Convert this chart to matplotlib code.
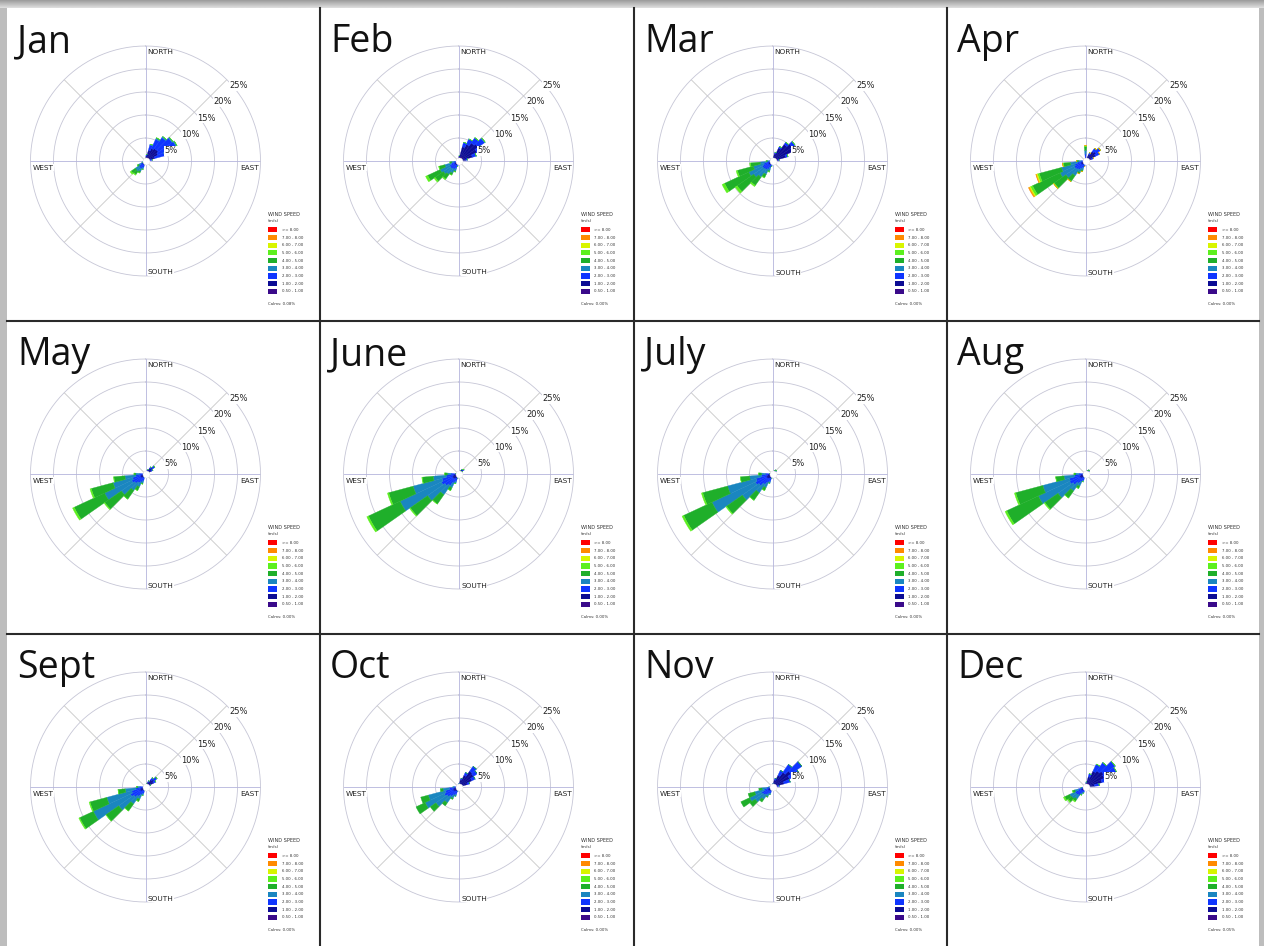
import numpy as np
import matplotlib
matplotlib.use("Agg")
import matplotlib.pyplot as plt
from matplotlib.patches import Rectangle

W, H = 1264, 946

MONTHS = ["Jan", "Feb", "Mar", "Apr", "May", "June",
          "July", "Aug", "Sept", "Oct", "Nov", "Dec"]
SPEED_BINS = ["0.50 - 1.00", "1.00 - 2.00", "2.00 - 3.00", "3.00 - 4.00",
              "4.00 - 5.00", "5.00 - 6.00", "6.00 - 7.00", "7.00 - 8.00", ">= 8.00"]
BIN_COLORS = ["#3a0a8a", "#0c0c94", "#0f35ff", "#1a86c0", "#1faf2a",
              "#5cf01e", "#d8f500", "#ff8a00", "#ff0000"]
RINGS = [5, 10, 15, 20, 25]
DIRECTIONS = ["NORTH", "EAST", "SOUTH", "WEST"]
CALMS = ["0.08%", "0.00%", "0.00%", "0.00%", "0.00%", "0.00%",
         "0.00%", "0.00%", "0.00%", "0.00%", "0.00%", "0.05%"]

# frequency (%) per 10-degree sector, one value per speed bin (slowest first)
JAN = {0: [0.2, 0.3], 10: [0.4, 0.7, 0.3], 20: [0.8, 1.6, 1.2, 0.2],
       30: [1.0, 2.0, 2.2, 0.3, 0.1], 40: [1.1, 2.2, 2.9, 0.3], 50: [1.1, 2.3, 3.6, 0.3],
       60: [0.9, 2.1, 4.3, 0.3], 70: [0.6, 1.5, 2.2, 0.2], 80: [0.3, 0.7, 0.5],
       90: [0.1, 0.2, 0.2], 190: [0.2, 0.3, 0.3], 200: [0.3, 0.5, 0.7, 0.4, 0.1],
       210: [0.3, 0.6, 0.9, 0.7, 0.4], 220: [0.3, 0.6, 1.0, 0.9, 0.8, 0.2],
       230: [0.3, 0.6, 0.9, 0.9, 1.1, 0.3], 240: [0.2, 0.4, 0.5, 0.5, 0.4],
       250: [0.1, 0.2, 0.3, 0.2]}
FEB = {10: [0.3, 0.8, 0.1], 20: [0.8, 2.4, 1.0], 30: [1.0, 3.0, 1.3],
       40: [1.2, 3.6, 1.3, 0.1], 50: [1.3, 3.9, 1.7, 0.2], 60: [1.0, 3.4, 1.4],
       70: [0.7, 2.4, 0.9], 80: [0.4, 1.2, 0.4], 190: [0.2, 0.4, 0.4, 0.2],
       200: [0.3, 0.6, 0.8, 0.6, 0.2], 210: [0.3, 0.7, 1.0, 0.9, 0.5],
       220: [0.3, 0.7, 1.1, 1.5, 1.2, 0.2], 230: [0.3, 0.7, 1.2, 1.8, 2.2, 0.3],
       240: [0.3, 0.6, 1.2, 2.3, 3.0, 0.5], 250: [0.2, 0.5, 0.9, 1.5, 1.3, 0.1],
       260: [0.1, 0.3, 0.5, 0.6, 0.4], 270: [0.1, 0.2, 0.2]}
MAR = {20: [0.4, 1.3, 0.3], 30: [0.7, 2.4, 0.4], 40: [1.0, 3.4, 0.6],
       50: [1.1, 4.1, 0.8], 60: [1.0, 3.8, 0.7], 70: [0.6, 2.4, 0.5],
       80: [0.3, 1.0, 0.2], 190: [0.2, 0.4, 0.4, 0.2], 200: [0.2, 0.5, 0.8, 0.7, 0.3],
       210: [0.3, 0.6, 1.1, 1.2, 0.8, 0.1], 220: [0.3, 0.7, 1.3, 2.0, 2.2, 0.3],
       230: [0.3, 0.7, 1.4, 2.6, 4.4, 0.5], 240: [0.3, 0.7, 1.5, 3.2, 5.8, 0.6],
       250: [0.2, 0.6, 1.2, 2.3, 3.6, 0.3], 260: [0.1, 0.4, 0.8, 1.4, 2.1, 0.2],
       270: [0.1, 0.2, 0.4, 0.4, 0.3]}
APR = {0: [0.2, 0.5, 0.8, 0.8, 0.8, 0.2], 30: [0.4, 1.2, 0.4], 40: [0.6, 1.9, 0.9],
       50: [0.6, 2.2, 1.2], 60: [0.5, 1.9, 1.0], 70: [0.3, 1.1, 0.4],
       80: [0.2, 0.4, 0.2], 190: [0.2, 0.4, 0.4, 0.2], 200: [0.2, 0.5, 0.8, 0.6, 0.3],
       210: [0.3, 0.6, 1.0, 0.8, 0.4], 220: [0.3, 0.7, 1.3, 1.6, 1.5, 0.1],
       230: [0.3, 0.8, 1.5, 2.6, 3.1, 0.2], 240: [0.3, 0.8, 1.6, 3.4, 6.6, 0.5, 0.3, 0.2],
       250: [0.3, 0.7, 1.4, 3.0, 5.0, 0.4, 0.3, 0.1], 260: [0.2, 0.5, 1.0, 1.6, 1.5, 0.2],
       270: [0.1, 0.3, 0.5, 0.6, 0.4]}
MAY = {30: [0.3, 0.6, 0.2], 40: [0.5, 1.0, 0.4], 50: [0.6, 1.3, 0.6], 60: [0.4, 1.0, 0.4],
       70: [0.2, 0.5, 0.1], 190: [0.2, 0.3, 0.3], 200: [0.3, 0.5, 0.8, 0.5, 0.2],
       210: [0.3, 0.6, 1.1, 1.1, 0.9], 220: [0.3, 0.7, 1.4, 2.0, 2.3],
       230: [0.4, 0.8, 1.7, 3.5, 4.4, 0.2], 240: [0.4, 0.9, 2.0, 6.5, 7.3, 0.4],
       250: [0.3, 0.8, 1.8, 4.4, 4.9, 0.3], 260: [0.2, 0.6, 1.3, 2.4, 2.4, 0.1],
       270: [0.1, 0.4, 0.8, 0.8, 0.4], 280: [0.1, 0.2, 0.2]}
JUNE = {30: [0.2, 0.5, 0.1], 40: [0.3, 0.8, 0.2], 50: [0.3, 0.9, 0.3], 60: [0.2, 0.6, 0.2],
        190: [0.2, 0.4, 0.3], 200: [0.3, 0.6, 0.8, 0.4, 0.1], 210: [0.3, 0.7, 1.2, 1.1, 0.7],
        220: [0.4, 0.9, 1.8, 2.4, 2.5], 230: [0.4, 1.0, 2.2, 4.6, 4.6, 0.2],
        240: [0.4, 1.1, 2.6, 9.9, 7.6, 0.4], 250: [0.4, 1.0, 2.3, 6.5, 5.5, 0.3],
        260: [0.3, 0.8, 1.6, 2.8, 2.4, 0.1], 270: [0.2, 0.5, 0.9, 0.8, 0.6],
        280: [0.1, 0.3, 0.3]}
JULY = {20: [0.2, 0.3], 30: [0.3, 0.5, 0.1], 40: [0.3, 0.6, 0.2], 50: [0.3, 0.6, 0.2],
        60: [0.2, 0.5, 0.1], 190: [0.2, 0.4, 0.3], 200: [0.3, 0.6, 0.8, 0.4],
        210: [0.3, 0.7, 1.2, 1.1, 0.7], 220: [0.4, 0.8, 1.6, 2.2, 2.0],
        230: [0.4, 1.0, 2.2, 4.4, 4.2, 0.2], 240: [0.4, 1.1, 2.6, 10.4, 6.8, 0.4],
        250: [0.4, 1.0, 2.3, 6.4, 5.6, 0.3], 260: [0.3, 0.7, 1.4, 2.6, 2.0],
        270: [0.2, 0.5, 0.8, 0.9, 0.6], 280: [0.1, 0.3, 0.3]}
AUG = {20: [0.2, 0.3], 30: [0.3, 0.5, 0.1], 40: [0.3, 0.6, 0.2], 50: [0.3, 0.6, 0.2],
       60: [0.2, 0.3], 190: [0.2, 0.3, 0.3], 200: [0.3, 0.5, 0.7, 0.3],
       210: [0.3, 0.6, 1.0, 1.0, 0.6], 220: [0.3, 0.7, 1.5, 2.0, 1.9],
       230: [0.4, 0.9, 2.0, 4.0, 3.5, 0.2], 240: [0.4, 1.0, 2.4, 7.5, 7.6, 0.4],
       250: [0.4, 1.0, 2.2, 6.0, 6.1, 0.3], 260: [0.3, 0.7, 1.4, 2.3, 1.8],
       270: [0.2, 0.4, 0.8, 0.7, 0.4], 280: [0.1, 0.2, 0.2]}
SEPT = {20: [0.2, 0.5, 0.1], 30: [0.3, 0.9, 0.3], 40: [0.5, 1.4, 0.6], 50: [0.6, 1.7, 0.8],
        60: [0.5, 1.4, 0.6], 70: [0.3, 0.7, 0.2], 190: [0.2, 0.3, 0.3],
        200: [0.3, 0.5, 0.7, 0.4], 210: [0.3, 0.6, 1.0, 1.0, 0.6],
        220: [0.3, 0.7, 1.5, 2.0, 1.9], 230: [0.4, 0.9, 1.8, 4.0, 3.4],
        240: [0.4, 1.0, 2.2, 8.9, 3.3, 0.2], 250: [0.3, 0.9, 1.9, 5.6, 3.8, 0.2],
        260: [0.2, 0.6, 1.3, 2.3, 1.6], 270: [0.1, 0.4, 0.7, 0.5, 0.3]}
OCT = {10: [0.2, 0.5, 0.1], 20: [0.4, 1.3, 0.3], 30: [0.6, 2.2, 0.7],
       40: [0.9, 3.3, 1.3], 50: [0.9, 3.1, 1.0], 60: [0.7, 2.5, 0.8],
       70: [0.4, 1.6, 0.5], 80: [0.2, 0.5, 0.2], 190: [0.2, 0.4, 0.3],
       200: [0.3, 0.6, 0.8, 0.4], 210: [0.3, 0.7, 1.0, 0.7, 0.3],
       220: [0.3, 0.8, 1.4, 1.7, 0.8], 230: [0.4, 0.9, 1.7, 3.0, 1.5],
       240: [0.4, 1.0, 2.0, 4.6, 2.2], 250: [0.3, 0.9, 1.8, 3.8, 1.7],
       260: [0.2, 0.6, 1.2, 1.4, 0.6], 270: [0.1, 0.3, 0.5, 0.3]}
NOV = {10: [0.2, 0.5, 0.1], 20: [0.4, 1.2, 0.4], 30: [0.6, 2.2, 1.2],
       40: [0.9, 3.0, 2.1], 50: [1.1, 3.8, 2.9], 60: [0.9, 3.2, 2.4],
       70: [0.6, 2.0, 1.4], 80: [0.3, 0.8, 0.4], 190: [0.2, 0.3, 0.2],
       200: [0.3, 0.5, 0.6, 0.3], 210: [0.3, 0.6, 0.8, 0.6, 0.2],
       220: [0.3, 0.7, 1.1, 1.2, 0.7], 230: [0.3, 0.8, 1.3, 2.2, 1.4],
       240: [0.3, 0.8, 1.5, 2.9, 2.1], 250: [0.2, 0.6, 1.1, 2.1, 1.5],
       260: [0.1, 0.4, 0.7, 1.1, 0.7], 270: [0.1, 0.2, 0.3, 0.2]}
DEC = {10: [0.3, 0.6, 0.2], 20: [0.7, 1.6, 0.7], 30: [1.0, 2.8, 1.7], 40: [1.1, 3.2, 2.2],
       50: [1.2, 3.6, 3.1], 60: [1.1, 3.4, 3.0], 70: [0.9, 2.8, 2.3], 80: [0.5, 1.5, 1.0],
       90: [0.2, 0.4, 0.1], 200: [0.2, 0.5, 0.5, 0.2], 210: [0.3, 0.6, 0.7, 0.3, 0.1],
       220: [0.3, 0.7, 1.2, 1.0, 0.6, 0.2], 230: [0.3, 0.8, 1.3, 1.2, 1.0, 0.2],
       240: [0.3, 0.8, 1.4, 1.3, 1.2, 0.3], 250: [0.2, 0.5, 0.9, 0.8, 0.5, 0.1],
       260: [0.1, 0.3, 0.4, 0.2]}
ROSES = [JAN, FEB, MAR, APR, MAY, JUNE, JULY, AUG, SEPT, OCT, NOV, DEC]

# panel grid edges in pixels
COL_X = [7, 320, 634, 947, 1259]
ROW_Y = [8, 321, 634, 946]
R_PX = 115  # radius of the 25% ring

fig = plt.figure(figsize=(W / 100, H / 100), dpi=100, facecolor="#bdbdbd")
bg = fig.add_axes([0, 0, 1, 1])
bg.set_xlim(0, W)
bg.set_ylim(H, 0)
bg.axis("off")

# soft shadow along the top edge
shade = np.linspace(0.62, 0.86, 8).reshape(-1, 1) * np.ones((1, 2))
bg.imshow(shade, extent=[0, W, 8, 0], cmap="gray", vmin=0, vmax=1, aspect="auto")

for k, (name, rose, calm) in enumerate(zip(MONTHS, ROSES, CALMS)):
    r, c = divmod(k, 4)
    x0, y0 = COL_X[c], ROW_Y[r]
    bg.add_patch(Rectangle((x0, y0), COL_X[c + 1] - x0, ROW_Y[r + 1] - y0,
                           fc="white", ec="none"))
    bg.text(x0 + 10, y0 + 44, name, fontsize=27, family="Open Sans",
            va="baseline", ha="left", color="#111111")

    # legend
    bg.text(x0 + 261, y0 + 206, "WIND SPEED", fontsize=3.6, va="center", color="#333333")
    bg.text(x0 + 261, y0 + 212.5, "(m/s)", fontsize=3.2, va="center", color="#333333")
    for i in range(len(SPEED_BINS)):
        j = len(SPEED_BINS) - 1 - i
        yc = y0 + 221.8 + 7.7 * i
        bg.add_patch(Rectangle((x0 + 261, yc - 2.6), 8.5, 5.2, fc=BIN_COLORS[j], ec="none"))
        bg.text(x0 + 274.5, yc, SPEED_BINS[j], fontsize=2.8, va="center", color="#333333")
    bg.text(x0 + 261, y0 + 295.5, "Calms: " + calm, fontsize=2.8, va="center", color="#333333")

    # rose
    cx, cy = x0 + 138.5, y0 + 153
    ax = fig.add_axes([(cx - R_PX) / W, 1 - (cy + R_PX) / H, 2 * R_PX / W, 2 * R_PX / H],
                      projection="polar")
    ax.set_theta_zero_location("N")
    ax.set_theta_direction(-1)
    ax.set_ylim(0, RINGS[-1])
    ax.set_xticks([])
    ax.set_yticks([])
    ax.grid(False)
    ax.spines["polar"].set_visible(False)
    ax.patch.set_alpha(0)

    t = np.linspace(0, 2 * np.pi, 361)
    for rr in RINGS:
        ax.plot(t, np.full_like(t, rr), color="#c6c6d6", lw=0.6, zorder=1, clip_on=False)
    for a in range(0, 360, 45):
        col = "#b4b4dc" if a % 90 == 0 else "#c8c8c8"
        ax.plot([np.deg2rad(a)] * 2, [0, RINGS[-1]], color=col, lw=0.6, zorder=1)

    dirs = sorted(rose)
    theta = np.deg2rad(dirs)
    bottom = np.zeros(len(dirs))
    for i in range(len(SPEED_BINS)):
        h = np.array([rose[d][i] if i < len(rose[d]) else 0.0 for d in dirs])
        if h.sum() == 0:
            continue
        ax.bar(theta, h, width=np.deg2rad(10), bottom=bottom, color=BIN_COLORS[i],
               edgecolor=BIN_COLORS[i], linewidth=0.25, zorder=3)
        bottom = bottom + h

    ax.scatter([0], [0], s=26, c="white", edgecolors="#dddddd", linewidths=0.3, zorder=5)

    for rr in RINGS:
        ax.annotate(f"{rr}%", xy=(np.pi / 4, rr), xytext=(3, -6), textcoords="offset pixels",
                    ha="left", va="center", fontsize=6, color="#222222", zorder=6,
                    bbox=dict(boxstyle="square,pad=0.05", fc="white", ec="none"))
    lab_pos = {"NORTH": ((1.5, 109), "left"), "EAST": ((113.5, -6.7), "right"),
               "SOUTH": ((2.5, -111.5), "left"), "WEST": ((-113, -6.7), "left")}
    for dname in DIRECTIONS:
        off, ha = lab_pos[dname]
        ax.annotate(dname, xy=(0, 0), xytext=off, textcoords="offset pixels",
                    ha=ha, va="center", fontsize=5.3, color="#222222", zorder=6,
                    bbox=dict(boxstyle="square,pad=0.05", fc="white", ec="none"))

# panel separators
for x in COL_X[1:-1]:
    bg.plot([x, x], [ROW_Y[0], H], color="#2a2a2a", lw=1.5)
for y in ROW_Y[1:-1]:
    bg.plot([COL_X[0], COL_X[-1]], [y, y], color="#2a2a2a", lw=1.5)

fig.savefig("out.png", dpi=100, facecolor=fig.get_facecolor())
